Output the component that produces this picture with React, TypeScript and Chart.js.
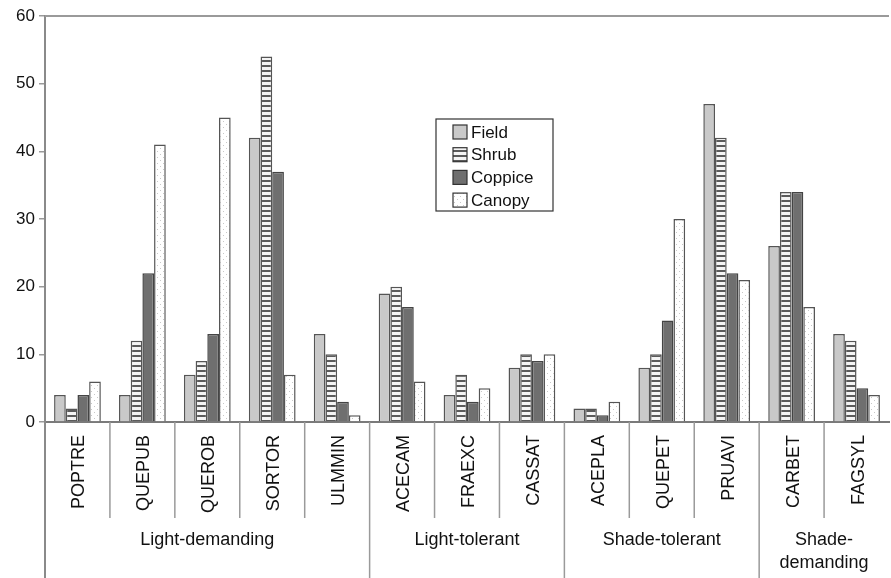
import React, { useEffect, useRef } from "react";
import { Chart, registerables } from "chart.js";

Chart.register(...registerables);

const categories = ["POPTRE", "QUEPUB", "QUEROB", "SORTOR", "ULMMIN", "ACECAM", "FRAEXC", "CASSAT", "ACEPLA", "QUEPET", "PRUAVI", "CARBET", "FAGSYL"];
const fieldValues = [4, 4, 7, 42, 13, 19, 4, 8, 2, 8, 47, 26, 13];
const shrubValues = [2, 12, 9, 54, 10, 20, 7, 10, 2, 10, 42, 34, 12];
const coppiceValues = [4, 22, 13, 37, 3, 17, 3, 9, 1, 15, 22, 34, 5];
const canopyValues = [6, 41, 45, 7, 1, 6, 5, 10, 3, 30, 21, 17, 4];
const groupLabels = [["Light-demanding"], ["Light-tolerant"], ["Shade-tolerant"], ["Shade-", "demanding"]];
const groupSizes = [5, 3, 3, 2];
const yTicks = [0, 10, 20, 30, 40, 50, 60];

const FONT = "'Liberation Sans', Arial, sans-serif";

function makeStripe(): CanvasPattern | string {
  const c = document.createElement("canvas");
  c.width = 4;
  c.height = 5;
  const g = c.getContext("2d");
  if (!g) return "#aaa";
  g.fillStyle = "#f4f4f4";
  g.fillRect(0, 0, 4, 5);
  g.fillStyle = "#5a5a5a";
  g.fillRect(0, 0, 4, 2);
  return g.createPattern(c, "repeat") || "#aaa";
}

function makeDots(): CanvasPattern | string {
  const c = document.createElement("canvas");
  c.width = 6;
  c.height = 6;
  const g = c.getContext("2d");
  if (!g) return "#fff";
  g.fillStyle = "#ffffff";
  g.fillRect(0, 0, 6, 6);
  g.fillStyle = "#c8c8c8";
  g.fillRect(1, 1, 1, 1);
  g.fillRect(4, 4, 1, 1);
  return g.createPattern(c, "repeat") || "#fff";
}

const decorPlugin = {
  id: "decor",
  afterDraw(chart: any) {
    const ctx = chart.ctx as CanvasRenderingContext2D;
    const area = chart.chartArea;
    const xScale = chart.scales.x;
    const H = chart.height;
    const n = categories.length;
    const w = (area.right - area.left) / n;
    ctx.save();
    // top border
    ctx.strokeStyle = "#9a9a9a";
    ctx.lineWidth = 2;
    ctx.beginPath();
    ctx.moveTo(area.left, area.top);
    ctx.lineTo(area.right, area.top);
    ctx.stroke();
    // axis extension
    ctx.strokeStyle = "#8a8a8a";
    ctx.beginPath();
    ctx.moveTo(area.left, area.bottom);
    ctx.lineTo(area.left, H);
    ctx.stroke();
    // group boundaries
    const groupEdges = new Set<number>();
    let acc = 0;
    groupSizes.forEach((s) => {
      acc += s;
      groupEdges.add(acc);
    });
    ctx.lineWidth = 1.5;
    for (let i = 1; i < n; i++) {
      const x = area.left + i * w;
      ctx.strokeStyle = "#9a9a9a";
      ctx.beginPath();
      ctx.moveTo(x, area.bottom);
      ctx.lineTo(x, groupEdges.has(i) ? H : area.bottom + 96);
      ctx.stroke();
    }
    // category labels
    ctx.fillStyle = "#111";
    ctx.font = "18px " + FONT;
    ctx.textAlign = "right";
    ctx.textBaseline = "middle";
    categories.forEach((c, i) => {
      const x = xScale.getPixelForValue(i) + 2;
      ctx.save();
      ctx.translate(x, area.bottom + 13);
      ctx.rotate(-Math.PI / 2);
      ctx.fillText(c, 0, 0);
      ctx.restore();
    });
    // group labels
    ctx.textAlign = "center";
    ctx.font = "18px " + FONT;
    let start = 0;
    groupSizes.forEach((s, gi) => {
      const cx = area.left + (start + s / 2) * w;
      const lines = groupLabels[gi];
      lines.forEach((l, li) => {
        ctx.fillText(l, cx, area.bottom + 118 + li * 23);
      });
      start += s;
    });
    // legend
    const lx = area.left + 391;
    const ly = area.top + 103;
    ctx.fillStyle = "#fff";
    ctx.fillRect(lx, ly, 117, 92);
    ctx.strokeStyle = "#333";
    ctx.lineWidth = 1.2;
    ctx.strokeRect(lx, ly, 117, 92);
    ctx.font = "17px " + FONT;
    ctx.textAlign = "left";
    chart.data.datasets.forEach((ds: any, i: number) => {
      const cy = ly + 13 + i * 22.7;
      ctx.fillStyle = ds.backgroundColor;
      ctx.fillRect(lx + 17, cy - 7, 14, 14);
      ctx.strokeStyle = "#333";
      ctx.lineWidth = 1.2;
      ctx.strokeRect(lx + 17, cy - 7, 14, 14);
      ctx.fillStyle = "#111";
      ctx.fillText(ds.label, lx + 35, cy + 1);
    });
    ctx.restore();
  },
};

export default function App() {
  const ref = useRef<HTMLCanvasElement | null>(null);
  useEffect(() => {
    document.body.style.margin = "0";
    const canvas = ref.current;
    if (!canvas) return;
    const chart = new Chart(canvas, {
      type: "bar",
      data: {
        labels: categories,
        datasets: [
          { label: "Field", data: fieldValues, backgroundColor: "#c9c9c9", borderColor: "#555", borderWidth: 1.5 },
          { label: "Shrub", data: shrubValues, backgroundColor: makeStripe() as any, borderColor: "#555", borderWidth: 1.5 },
          { label: "Coppice", data: coppiceValues, backgroundColor: "#6f6f6f", borderColor: "#444", borderWidth: 1.5 },
          { label: "Canopy", data: canopyValues, backgroundColor: makeDots() as any, borderColor: "#555", borderWidth: 1.5 },
        ],
      },
      options: {
        responsive: false,
        animation: false,
        layout: { padding: { top: 16, right: 2, left: 0, bottom: 0 } },
        datasets: { bar: { categoryPercentage: 0.72, barPercentage: 1.0 } },
        plugins: { legend: { display: false }, tooltip: { enabled: false } },
        scales: {
          x: {
            grid: { display: false },
            border: { display: true, color: "#7a7a7a", width: 2 },
            ticks: { display: false },
            afterFit: (s: any) => {
              s.height = 156;
            },
          },
          y: {
            min: 0,
            max: 60,
            afterBuildTicks: (s: any) => {
              s.ticks = yTicks.map((v) => ({ value: v }));
            },
            grid: { display: true, drawOnChartArea: false, drawTicks: true, tickLength: 6, color: "#9a9a9a", lineWidth: 1.5 },
            border: { display: true, color: "#8a8a8a", width: 2 },
            ticks: { color: "#111", font: { size: 17, family: FONT }, padding: 4 },
            afterFit: (s: any) => {
              s.width = 45;
            },
          },
        },
      },
      plugins: [decorPlugin],
    });
    return () => chart.destroy();
  }, []);
  return (
    <div style={{ width: 891, height: 578 }}>
      <canvas ref={ref} width={891} height={578} style={{ display: "block" }} />
    </div>
  );
}
